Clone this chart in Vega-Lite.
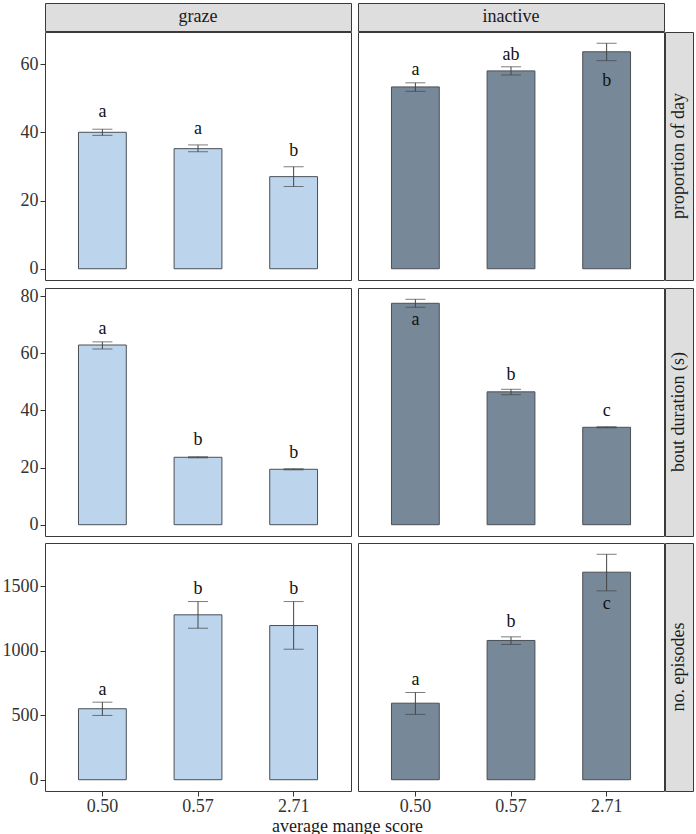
{
  "$schema": "https://vega.github.io/schema/vega-lite/v6.json",
  "padding": {"left": 1, "top": 2, "right": 2, "bottom": 0},
  "background": "white",
  "config": {
    "font": "Liberation Serif",
    "view": {"stroke": "#3a3a3a", "strokeWidth": 1},
    "axis": {"labelFont": "Liberation Serif", "labelColor": "#333333", "tickColor": "#333333", "grid": false, "domain": false, "tickSize": 5, "labelPadding": 2, "labelFontSize": 18},
    "text": {"font": "Liberation Serif"}
  },
  "title": {"text": "average mange score", "orient": "bottom", "anchor": "middle", "font": "Liberation Serif", "fontSize": 18, "fontWeight": "normal", "color": "#1a1a1a", "offset": 2},
  "datasets": {
    "d": [
      {"behavior": "graze", "measure": "prop", "score": "0.50", "mean": 40.0, "lower": 39.1, "upper": 40.9, "letter": "a", "label_y": 44.5},
      {"behavior": "graze", "measure": "prop", "score": "0.57", "mean": 35.2, "lower": 34.3, "upper": 36.3, "letter": "a", "label_y": 39.6},
      {"behavior": "graze", "measure": "prop", "score": "2.71", "mean": 27.0, "lower": 24.1, "upper": 29.9, "letter": "b", "label_y": 33.1},
      {"behavior": "inactive", "measure": "prop", "score": "0.50", "mean": 53.3, "lower": 52.0, "upper": 54.5, "letter": "a", "label_y": 56.8},
      {"behavior": "inactive", "measure": "prop", "score": "0.57", "mean": 58.0, "lower": 56.8, "upper": 59.2, "letter": "ab", "label_y": 61.1},
      {"behavior": "inactive", "measure": "prop", "score": "2.71", "mean": 63.6, "lower": 61.0, "upper": 66.1, "letter": "b", "label_y": 53.6},
      {"behavior": "graze", "measure": "bout", "score": "0.50", "mean": 62.9, "lower": 61.5, "upper": 64.0, "letter": "a", "label_y": 66.9},
      {"behavior": "graze", "measure": "bout", "score": "0.57", "mean": 23.6, "lower": 23.4, "upper": 23.8, "letter": "b", "label_y": 27.8},
      {"behavior": "graze", "measure": "bout", "score": "2.71", "mean": 19.4, "lower": 19.2, "upper": 19.6, "letter": "b", "label_y": 23.4},
      {"behavior": "inactive", "measure": "bout", "score": "0.50", "mean": 77.5, "lower": 76.1, "upper": 78.9, "letter": "a", "label_y": 69.8},
      {"behavior": "inactive", "measure": "bout", "score": "0.57", "mean": 46.5, "lower": 45.5, "upper": 47.4, "letter": "b", "label_y": 50.6},
      {"behavior": "inactive", "measure": "bout", "score": "2.71", "mean": 34.1, "lower": 33.9, "upper": 34.3, "letter": "c", "label_y": 38.1},
      {"behavior": "graze", "measure": "episodes", "score": "0.50", "mean": 551, "lower": 499, "upper": 602, "letter": "a", "label_y": 654},
      {"behavior": "graze", "measure": "episodes", "score": "0.57", "mean": 1280, "lower": 1176, "upper": 1383, "letter": "b", "label_y": 1440},
      {"behavior": "graze", "measure": "episodes", "score": "2.71", "mean": 1197, "lower": 1013, "upper": 1383, "letter": "b", "label_y": 1440},
      {"behavior": "inactive", "measure": "episodes", "score": "0.50", "mean": 594, "lower": 507, "upper": 677, "letter": "a", "label_y": 732},
      {"behavior": "inactive", "measure": "episodes", "score": "0.57", "mean": 1081, "lower": 1050, "upper": 1109, "letter": "b", "label_y": 1189},
      {"behavior": "inactive", "measure": "episodes", "score": "2.71", "mean": 1611, "lower": 1466, "upper": 1750, "letter": "c", "label_y": 1324}
    ],
    "strips": [
      {"kind": "col", "label": "graze"},
      {"kind": "col", "label": "inactive"},
      {"kind": "row", "label": "proportion of day"},
      {"kind": "row", "label": "bout duration (s)"},
      {"kind": "row", "label": "no. episodes"}
    ]
  },
  "spacing": 5,
  "vconcat": [
    {
      "spacing": -2,
      "vconcat": [
        {
          "spacing": 5,
          "hconcat": [
            {"width": 306, "height": 28, "view": {"fill": "#dedede", "stroke": "#3a3a3a"}, "data": {"name": "strips"}, "transform": [{"filter": "datum.label === 'graze'"}], "mark": {"type": "text", "fontSize": 18, "color": "#1a1a1a", "baseline": "middle"}, "encoding": {"text": {"field": "label"}}},
            {"width": 306, "height": 28, "view": {"fill": "#dedede", "stroke": "#3a3a3a"}, "data": {"name": "strips"}, "transform": [{"filter": "datum.label === 'inactive'"}], "mark": {"type": "text", "fontSize": 18, "color": "#1a1a1a", "baseline": "middle"}, "encoding": {"text": {"field": "label"}}}
          ]
        },
        {
          "spacing": 5,
          "hconcat": [
            {
              "width": 306, "height": 248, "data": {"name": "d"},
              "transform": [{"filter": "datum.behavior === 'graze' && datum.measure === 'prop'"}],
              "encoding": {"x": {"field": "score", "type": "nominal", "scale": {"paddingInner": 0.5, "paddingOuter": 0.35}, "axis": null}},
              "layer": [
                {"mark": {"type": "bar", "fill": "#bcd4ec", "stroke": "#4a4f57", "strokeWidth": 1}, "encoding": {"y": {"field": "mean", "type": "quantitative", "scale": {"domain": [-3.3, 69.4], "nice": false, "zero": false}, "axis": {"title": null, "values": [0, 20, 40, 60], "format": "d"}}, "y2": {"datum": 0}}},
                {"mark": {"type": "rule", "color": "#444444", "strokeWidth": 1}, "encoding": {"y": {"field": "lower", "type": "quantitative", "title": null}, "y2": {"field": "upper"}}},
                {"mark": {"type": "tick", "color": "#444444", "size": 20, "thickness": 1}, "encoding": {"y": {"field": "lower", "type": "quantitative", "title": null}}},
                {"mark": {"type": "tick", "color": "#444444", "size": 20, "thickness": 1}, "encoding": {"y": {"field": "upper", "type": "quantitative", "title": null}}},
                {"mark": {"type": "text", "baseline": "alphabetic", "fontSize": 18, "color": "#111111"}, "encoding": {"y": {"field": "label_y", "type": "quantitative", "title": null}, "text": {"field": "letter"}}}
              ]
            },
            {
              "spacing": -2,
              "hconcat": [
                {
                  "width": 306, "height": 248, "data": {"name": "d"},
                  "transform": [{"filter": "datum.behavior === 'inactive' && datum.measure === 'prop'"}],
                  "encoding": {"x": {"field": "score", "type": "nominal", "scale": {"paddingInner": 0.5, "paddingOuter": 0.35}, "axis": null}},
                  "layer": [
                    {"mark": {"type": "bar", "fill": "#778899", "stroke": "#4a4f57", "strokeWidth": 1}, "encoding": {"y": {"field": "mean", "type": "quantitative", "scale": {"domain": [-3.3, 69.4], "nice": false, "zero": false}, "axis": null}, "y2": {"datum": 0}}},
                    {"mark": {"type": "rule", "color": "#444444", "strokeWidth": 1}, "encoding": {"y": {"field": "lower", "type": "quantitative", "title": null}, "y2": {"field": "upper"}}},
                    {"mark": {"type": "tick", "color": "#444444", "size": 20, "thickness": 1}, "encoding": {"y": {"field": "lower", "type": "quantitative", "title": null}}},
                    {"mark": {"type": "tick", "color": "#444444", "size": 20, "thickness": 1}, "encoding": {"y": {"field": "upper", "type": "quantitative", "title": null}}},
                    {"mark": {"type": "text", "baseline": "alphabetic", "fontSize": 18, "color": "#111111"}, "encoding": {"y": {"field": "label_y", "type": "quantitative", "title": null}, "text": {"field": "letter"}}}
                  ]
                },
                {"width": 28, "height": 248, "view": {"fill": "#dedede", "stroke": "#3a3a3a"}, "data": {"name": "strips"}, "transform": [{"filter": "datum.label === 'proportion of day'"}], "mark": {"type": "text", "fontSize": 18, "color": "#1a1a1a", "baseline": "middle", "angle": 270}, "encoding": {"text": {"field": "label"}}}
              ]
            }
          ]
        }
      ]
    },
    {
      "spacing": 5,
      "hconcat": [
        {
          "width": 306, "height": 248, "data": {"name": "d"},
          "transform": [{"filter": "datum.behavior === 'graze' && datum.measure === 'bout'"}],
          "encoding": {"x": {"field": "score", "type": "nominal", "scale": {"paddingInner": 0.5, "paddingOuter": 0.35}, "axis": null}},
          "layer": [
            {"mark": {"type": "bar", "fill": "#bcd4ec", "stroke": "#4a4f57", "strokeWidth": 1}, "encoding": {"y": {"field": "mean", "type": "quantitative", "scale": {"domain": [-3.95, 82.85], "nice": false, "zero": false}, "axis": {"title": null, "values": [0, 20, 40, 60, 80], "format": "d"}}, "y2": {"datum": 0}}},
            {"mark": {"type": "rule", "color": "#444444", "strokeWidth": 1}, "encoding": {"y": {"field": "lower", "type": "quantitative", "title": null}, "y2": {"field": "upper"}}},
            {"mark": {"type": "tick", "color": "#444444", "size": 20, "thickness": 1}, "encoding": {"y": {"field": "lower", "type": "quantitative", "title": null}}},
            {"mark": {"type": "tick", "color": "#444444", "size": 20, "thickness": 1}, "encoding": {"y": {"field": "upper", "type": "quantitative", "title": null}}},
            {"mark": {"type": "text", "baseline": "alphabetic", "fontSize": 18, "color": "#111111"}, "encoding": {"y": {"field": "label_y", "type": "quantitative", "title": null}, "text": {"field": "letter"}}}
          ]
        },
        {
          "spacing": -2,
          "hconcat": [
            {
              "width": 306, "height": 248, "data": {"name": "d"},
              "transform": [{"filter": "datum.behavior === 'inactive' && datum.measure === 'bout'"}],
              "encoding": {"x": {"field": "score", "type": "nominal", "scale": {"paddingInner": 0.5, "paddingOuter": 0.35}, "axis": null}},
              "layer": [
                {"mark": {"type": "bar", "fill": "#778899", "stroke": "#4a4f57", "strokeWidth": 1}, "encoding": {"y": {"field": "mean", "type": "quantitative", "scale": {"domain": [-3.95, 82.85], "nice": false, "zero": false}, "axis": null}, "y2": {"datum": 0}}},
                {"mark": {"type": "rule", "color": "#444444", "strokeWidth": 1}, "encoding": {"y": {"field": "lower", "type": "quantitative", "title": null}, "y2": {"field": "upper"}}},
                {"mark": {"type": "tick", "color": "#444444", "size": 20, "thickness": 1}, "encoding": {"y": {"field": "lower", "type": "quantitative", "title": null}}},
                {"mark": {"type": "tick", "color": "#444444", "size": 20, "thickness": 1}, "encoding": {"y": {"field": "upper", "type": "quantitative", "title": null}}},
                {"mark": {"type": "text", "baseline": "alphabetic", "fontSize": 18, "color": "#111111"}, "encoding": {"y": {"field": "label_y", "type": "quantitative", "title": null}, "text": {"field": "letter"}}}
              ]
            },
            {"width": 28, "height": 248, "view": {"fill": "#dedede", "stroke": "#3a3a3a"}, "data": {"name": "strips"}, "transform": [{"filter": "datum.label === 'bout duration (s)'"}], "mark": {"type": "text", "fontSize": 18, "color": "#1a1a1a", "baseline": "middle", "angle": 270}, "encoding": {"text": {"field": "label"}}}
          ]
        }
      ]
    },
    {
      "spacing": 5,
      "hconcat": [
        {
          "width": 306, "height": 248, "data": {"name": "d"},
          "transform": [{"filter": "datum.behavior === 'graze' && datum.measure === 'episodes'"}],
          "encoding": {"x": {"field": "score", "type": "nominal", "scale": {"paddingInner": 0.5, "paddingOuter": 0.35}, "axis": {"title": null, "labelAngle": 0, "labelPadding": 1}}},
          "layer": [
            {"mark": {"type": "bar", "fill": "#bcd4ec", "stroke": "#4a4f57", "strokeWidth": 1}, "encoding": {"y": {"field": "mean", "type": "quantitative", "scale": {"domain": [-87.5, 1837.5], "nice": false, "zero": false}, "axis": {"title": null, "values": [0, 500, 1000, 1500], "format": "d"}}, "y2": {"datum": 0}}},
            {"mark": {"type": "rule", "color": "#444444", "strokeWidth": 1}, "encoding": {"y": {"field": "lower", "type": "quantitative", "title": null}, "y2": {"field": "upper"}}},
            {"mark": {"type": "tick", "color": "#444444", "size": 20, "thickness": 1}, "encoding": {"y": {"field": "lower", "type": "quantitative", "title": null}}},
            {"mark": {"type": "tick", "color": "#444444", "size": 20, "thickness": 1}, "encoding": {"y": {"field": "upper", "type": "quantitative", "title": null}}},
            {"mark": {"type": "text", "baseline": "alphabetic", "fontSize": 18, "color": "#111111"}, "encoding": {"y": {"field": "label_y", "type": "quantitative", "title": null}, "text": {"field": "letter"}}}
          ]
        },
        {
          "spacing": -2,
          "hconcat": [
            {
              "width": 306, "height": 248, "data": {"name": "d"},
              "transform": [{"filter": "datum.behavior === 'inactive' && datum.measure === 'episodes'"}],
              "encoding": {"x": {"field": "score", "type": "nominal", "scale": {"paddingInner": 0.5, "paddingOuter": 0.35}, "axis": {"title": null, "labelAngle": 0, "labelPadding": 1}}},
              "layer": [
                {"mark": {"type": "bar", "fill": "#778899", "stroke": "#4a4f57", "strokeWidth": 1}, "encoding": {"y": {"field": "mean", "type": "quantitative", "scale": {"domain": [-87.5, 1837.5], "nice": false, "zero": false}, "axis": null}, "y2": {"datum": 0}}},
                {"mark": {"type": "rule", "color": "#444444", "strokeWidth": 1}, "encoding": {"y": {"field": "lower", "type": "quantitative", "title": null}, "y2": {"field": "upper"}}},
                {"mark": {"type": "tick", "color": "#444444", "size": 20, "thickness": 1}, "encoding": {"y": {"field": "lower", "type": "quantitative", "title": null}}},
                {"mark": {"type": "tick", "color": "#444444", "size": 20, "thickness": 1}, "encoding": {"y": {"field": "upper", "type": "quantitative", "title": null}}},
                {"mark": {"type": "text", "baseline": "alphabetic", "fontSize": 18, "color": "#111111"}, "encoding": {"y": {"field": "label_y", "type": "quantitative", "title": null}, "text": {"field": "letter"}}}
              ]
            },
            {"width": 28, "height": 248, "view": {"fill": "#dedede", "stroke": "#3a3a3a"}, "data": {"name": "strips"}, "transform": [{"filter": "datum.label === 'no. episodes'"}], "mark": {"type": "text", "fontSize": 18, "color": "#1a1a1a", "baseline": "middle", "angle": 270}, "encoding": {"text": {"field": "label"}}}
          ]
        }
      ]
    }
  ]
}
